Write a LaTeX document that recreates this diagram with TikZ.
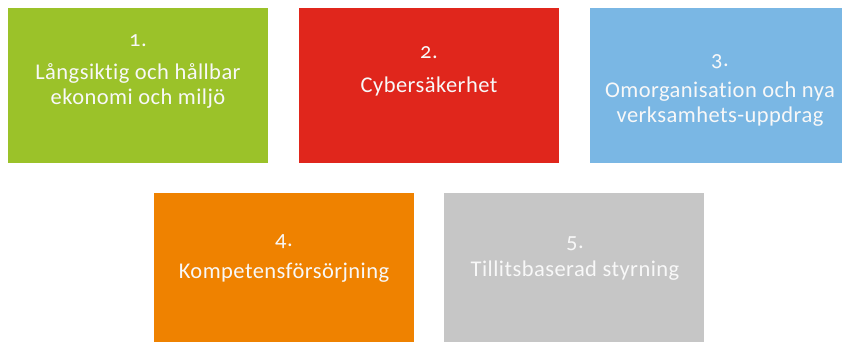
\documentclass[tikz,border=0pt]{standalone}
\usepackage{fontspec}
\setmainfont{Carlito}[Numbers=OldStyle,Ligatures=NoCommon,LetterSpace=2.0]
\definecolor{cgreen}{HTML}{9BC229}
\definecolor{cred}{HTML}{E0261C}
\definecolor{cblue}{HTML}{7AB7E4}
\definecolor{corange}{HTML}{EF8200}
\definecolor{cgray}{HTML}{C6C6C6}
\definecolor{ctext}{HTML}{F8F8F8}
\begin{document}
\begin{tikzpicture}[x=1pt,y=-1pt,
  box/.style={draw=none,minimum width=260pt,minimum height=155pt,inner sep=0pt},
  lbl/.style={text=ctext,inner sep=0pt,anchor=base,font=\fontsize{22.5pt}{27pt}\selectfont}]
\useasboundingbox (0,0) rectangle (842,342);
\clip (0,0) rectangle (842,342);
\fill[white] (0,0) rectangle (842,342);
% boxes
\node[box,fill=cgreen]  (b1) at (138,85.5) {};
\node[box,fill=cred]    (b2) at (429,85.5) {};
\node[box,fill=cblue]   (b3) at (720,85.5) {};
\node[box,fill=corange] (b4) at (284,270.5) {};
\node[box,fill=cgray]   (b5) at (574,270.5) {};
% texts
\node[lbl] (n1) at (138,47) {1.};
\node[lbl] (t1a) at (138,80) {Långsiktig och hållbar};
\node[lbl] (t1b) at (138,104) {ekonomi och miljö};
\node[lbl] (n2) at (429,59) {2.};
\node[lbl] (t2) at (429,92.5) {Cybersäkerhet};
\node[lbl] (n3) at (720,67) {3.};
\node[lbl] (t3a) at (720,98) {Omorganisation och nya};
\node[lbl] (t3b) at (720,122) {verksamhets-uppdrag};
\node[lbl] (n4) at (284,246.5) {4.};
\node[lbl] (t4) at (284,278.3) {Kompetensförsörjning};
\node[lbl] (n5) at (575,248) {5.};
\node[lbl] (t5) at (575,276.7) {Tillitsbaserad styrning};
\end{tikzpicture}
\end{document}
